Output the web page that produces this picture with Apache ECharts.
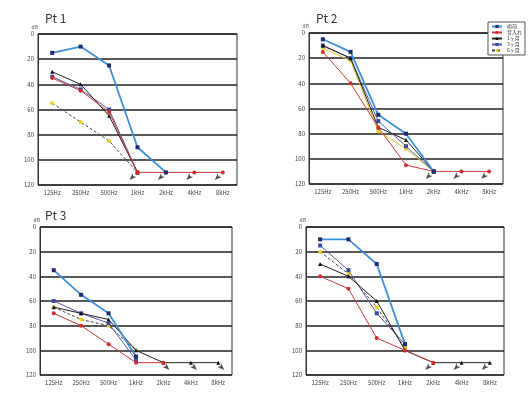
<!DOCTYPE html>
<html>
<head>
<meta charset="utf-8">
<script src="https://cdn.jsdelivr.net/npm/echarts@6/dist/echarts.min.js"></script>
<style>
  html, body { margin: 0; padding: 0; background: #fff; }
  #chart { width: 532px; height: 394px; }
</style>
</head>
<body>
<div id="chart"></div>
<script>
// frequencies and hearing thresholds (dB)
var freqs = ["125Hz", "250Hz", "500Hz", "1kHz", "2kHz", "4kHz", "8kHz"];
var seriesNames = ["術前", "音入れ", "1ヶ月", "3ヶ月", "6ヶ月"];

// Pt 1
var pt1Pre = [15, 10, 25, 90, 110, null, null];
var pt1Act = [35, 45, 62, 110, 110, 110, 110];
var pt1M1 = [30, 40, 65, 110, null, null, null];
var pt1M3 = [34, 44, 60, 110, null, null, null];
var pt1M6 = [55, 70, 85, 110, null, null, null];
var pt1Out = [null, null, null, 116, 116, 116, 116];

// Pt 2
var pt2Pre = [5, 15, 65, 80, 110, null, null];
var pt2Act = [15, 40, 75, 105, 110, 110, 110];
var pt2M1 = [10, 20, 75, 85, 110, null, null];
var pt2M3 = [10, 20, 70, 90, 110, null, null];
var pt2M6 = [12, 22, 78, 92, 110, null, null];
var pt2Out = [null, null, null, null, 116, 116, 116];

// Pt 3
var pt3Pre = [35, 55, 70, 105, null, null, null];
var pt3Act = [70, 80, 95, 110, 110, null, null];
var pt3M1 = [65, 70, 75, 100, 110, 110, 110];
var pt3M3 = [60, 70, 78, 108, null, null, null];
var pt3M6 = [65, 75, 80, 100, null, null, null];
var pt3Out = [null, null, null, null, 116, 116, 116];

// Pt 4
var pt4Pre = [10, 10, 30, 95, null, null, null];
var pt4Act = [40, 50, 90, 100, 110, null, null];
var pt4M1 = [30, 40, 60, 100, 110, 110, 110];
var pt4M3 = [15, 35, 70, 95, null, null, null];
var pt4M6 = [20, 38, 65, 98, null, null, null];
var pt4Out = [null, null, null, null, 116, 116, 116];

var panels = [
    {data: [pt1Pre, pt1Act, pt1M1, pt1M3, pt1M6], out: pt1Out, outRot: 135, outOff: -8, m6Dash: true},
    {data: [pt2Pre, pt2Act, pt2M1, pt2M3, pt2M6], out: pt2Out, outRot: 135, outOff: -8, m6Dash: false},
    {data: [pt3Pre, pt3Act, pt3M1, pt3M3, pt3M6], out: pt3Out, outRot: 225, outOff: 6, m6Dash: true},
    {data: [pt4Pre, pt4Act, pt4M1, pt4M3, pt4M6], out: pt4Out, outRot: 135, outOff: -8, m6Dash: true}
];

// line colour, marker colour, marker shape
var looks = [
    {line: "#3f8fd6", mark: "#1c2c6c", symbol: "rect"},
    {line: "#c83a3a", mark: "#d42a2a", symbol: "circle"},
    {line: "#222222", mark: "#111111", symbol: "triangle"},
    {line: "#5a5aa8", mark: "#3a4aa0", symbol: "rect"},
    {line: "#e0c828", mark: "#e8d020", symbol: "circle"}
];

var myChart = echarts.init(document.getElementById('chart'));

var grids = [
    {left: 38, top: 34, width: 199, height: 151},
    {left: 309, top: 33, width: 194, height: 151},
    {left: 40, top: 227, width: 192, height: 148},
    {left: 306, top: 227, width: 198, height: 148}
];

var xAxes = [], yAxes = [], series = [];
grids.forEach(function (g, i) {
    g.show = true;
    g.borderColor = "#333";
    g.borderWidth = 1;
    xAxes.push({
        type: 'category',
        gridIndex: i,
        data: freqs,
        boundaryGap: true,
        axisLine: {lineStyle: {color: "#333"}},
        axisTick: {show: false},
        axisLabel: {fontSize: 6, color: "#444", margin: 5}
    });
    yAxes.push({
        type: 'value',
        gridIndex: i,
        inverse: true,
        min: 0,
        max: 120,
        interval: 20,
        name: "dB",
        nameLocation: 'start',
        nameGap: 4,
        nameTextStyle: {fontSize: 5, color: "#555", align: 'right'},
        axisLine: {show: true, lineStyle: {color: "#333"}},
        axisTick: {show: false},
        axisLabel: {fontSize: 6, color: "#444", margin: 4},
        splitLine: {lineStyle: {color: "#222", width: 1.5}}
    });
    var p = panels[i];
    p.data.forEach(function (vals, k) {
        var lineColor = looks[k].line;
        var lineType = 'solid';
        if (k === 4 && p.m6Dash) {
            lineColor = "#444";
            lineType = [3, 2];
        }
        series.push({
            name: seriesNames[k],
            type: 'line',
            xAxisIndex: i,
            yAxisIndex: i,
            data: vals,
            symbol: looks[k].symbol,
            symbolSize: 4,
            lineStyle: {color: lineColor, width: k === 0 ? 1.8 : 1, type: lineType},
            itemStyle: {color: looks[k].mark},
            z: 10 - k
        });
    });
    // scale-out arrows
    series.push({
        name: "scale out",
        type: 'scatter',
        xAxisIndex: i,
        yAxisIndex: i,
        data: p.out,
        symbol: 'arrow',
        symbolSize: [4, 7],
        symbolRotate: p.outRot,
        symbolOffset: [p.outOff, 0],
        itemStyle: {color: "#222"},
        silent: true
    });
});

var option = {
    backgroundColor: "#fff",
    animation: false,
    textStyle: {fontFamily: "'Noto Sans CJK JP', 'Noto Sans', sans-serif"},
    title: [
        {text: "Pt 1", left: 40, top: 7, textStyle: {fontSize: 12, fontWeight: 'normal', color: "#333"}},
        {text: "Pt 2", left: 311, top: 7, textStyle: {fontSize: 12, fontWeight: 'normal', color: "#333"}},
        {text: "Pt 3", left: 40, top: 204, textStyle: {fontSize: 12, fontWeight: 'normal', color: "#333"}}
    ],
    legend: {
        data: seriesNames,
        orient: 'vertical',
        left: 488,
        top: 22,
        itemWidth: 10,
        itemHeight: 4,
        itemGap: 1,
        padding: [2, 3],
        backgroundColor: "#fff",
        borderColor: "#555",
        borderWidth: 1,
        textStyle: {fontSize: 5, color: "#333"}
    },
    grid: grids,
    xAxis: xAxes,
    yAxis: yAxes,
    series: series
};

myChart.setOption(option);
</script>
</body>
</html>
